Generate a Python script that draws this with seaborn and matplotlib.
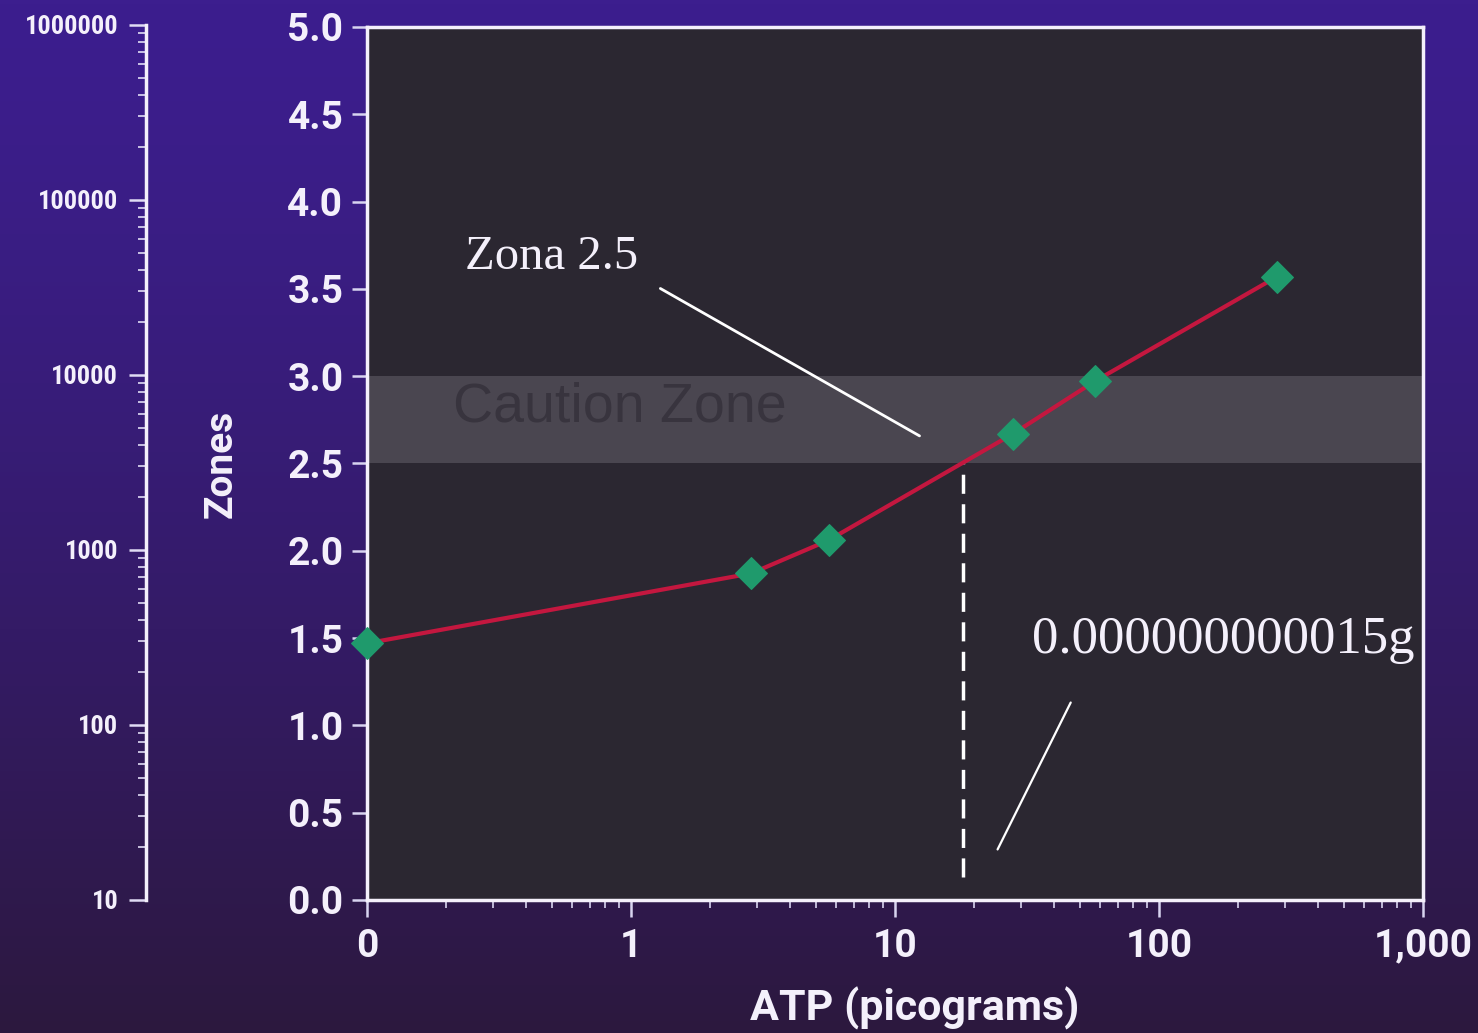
import numpy as np
import matplotlib.pyplot as plt
import matplotlib.ticker as mticker
import seaborn as sns

# values
atp_pg = [0.1, 2.85, 5.6, 28.0, 57.0, 280.0]     # 0.1 is the "0" position on the log axis
zones = [1.47, 1.87, 2.06, 2.67, 2.97, 3.57]

x_ticks = [0.1, 1, 10, 100, 1000]
x_ticklabels = ['0', '1', '10', '100', '1,000']
zone_ticks = [0.0, 0.5, 1.0, 1.5, 2.0, 2.5, 3.0, 3.5, 4.0, 4.5, 5.0]
rlu_ticks = [10, 100, 1000, 10000, 100000, 1000000]
rlu_labels = ['10', '100', '1000', '10000', '100000', '1000000']

caution_low, caution_high = 2.5, 3.0
zona_atp = 18.1
zona_level = 2.5
zona_floor = 0.13

sns.set_style("ticks")
bold_font = ['Roboto', 'DejaVu Sans']
narrow_font = ['Roboto Condensed', 'Roboto', 'DejaVu Sans']
serif_font = ['Liberation Serif', 'DejaVu Serif']
txt = '#f4f0fb'

fig = plt.figure(figsize=(14.78, 10.33), dpi=100)

# purple gradient backdrop
bg = fig.add_axes([0, 0, 1, 1], zorder=-10)
top = np.array([60, 30, 142]) / 255
bot = np.array([44, 24, 62]) / 255
t = (np.linspace(0, 1, 256) ** 1.4)[:, None]
grad = (top[None, :] * (1 - t) + bot[None, :] * t)[:, None, :]
bg.imshow(np.repeat(grad, 2, axis=1), aspect='auto', extent=[0, 1, 0, 1])
bg.axis('off')

# main chart
ax = fig.add_axes([0.2483, 0.1288, 0.7145, 0.8451])
ax.set_facecolor('#2b2731')
ax.axhspan(caution_low, caution_high, color='#4a4650', zorder=1, lw=0)
ax.text(0.212, 2.82, 'Caution Zone', fontsize=40,
        family=['Liberation Sans', 'DejaVu Sans'], color='#38343e', va='center', ha='left', zorder=2)

sns.lineplot(x=atp_pg, y=zones, ax=ax, color='#c4173f', lw=3, marker='D', markersize=16,
             markerfacecolor='#1f9a6c', markeredgecolor='#1f9a6c', zorder=5, clip_on=False)

ax.plot([zona_atp, zona_atp], [zona_floor, zona_level], color='white', lw=2.5,
        dashes=(5.5, 3), zorder=3)

ax.annotate('', xy=(12.65, 2.65), xytext=(1.265, 3.51),
            arrowprops=dict(arrowstyle='-', color='white', lw=2), zorder=4)
ax.text(0.50, 3.68, 'Zona 2.5', fontsize=35, family=serif_font, color=txt,
        ha='center', va='center')
ax.annotate('', xy=(24.2, 0.275), xytext=(46.8, 1.145),
            arrowprops=dict(arrowstyle='-', color='white', lw=1.6), zorder=4)
ax.text(175, 1.49, '0.000000000015g', fontsize=38, family=serif_font, color=txt,
        ha='center', va='center')

ax.set_xscale('log')
ax.set_xlim(0.1, 1000)
ax.set_ylim(0, 5)
ax.set_xticks(x_ticks)
ax.set_xticklabels(x_ticklabels)
ax.xaxis.set_minor_locator(mticker.LogLocator(base=10, subs=np.arange(2, 10)))
ax.xaxis.set_minor_formatter(mticker.NullFormatter())
ax.set_yticks(zone_ticks)
ax.set_yticklabels([f'{v:.1f}' for v in zone_ticks])
ax.yaxis.set_minor_locator(mticker.NullLocator())

for sp in ax.spines.values():
    sp.set_visible(True)
    sp.set_color('#f4f0fb')
    sp.set_linewidth(2.5)

ax.tick_params(axis='both', which='major', direction='out', length=11, width=1.8,
               color='#d8d4f0', labelcolor=txt, labelsize=28, pad=6,
               bottom=True, left=True, top=False, right=False)
ax.tick_params(axis='x', which='minor', direction='out', length=6, width=1.2,
               color='#d8d4f0', bottom=True, top=False)
ax.tick_params(axis='x', which='major', pad=8, length=12)
for lab in ax.get_xticklabels() + ax.get_yticklabels():
    lab.set_family(bold_font)
    lab.set_fontweight('bold')

ax.set_xlabel('ATP (picograms)', fontsize=31, fontweight='bold', family=bold_font, color=txt)
ax.set_ylabel('Zones', fontsize=28, fontweight='bold', family=bold_font, color=txt)
ax.xaxis.set_label_coords(0.519, -0.100)
ax.yaxis.set_label_coords(-0.121, 0.5)

# far-left logarithmic scale
ax2 = fig.add_axes([0.0988, 0.1288, 0.001, 0.8471])
ax2.set_facecolor('none')
ax2.set_yscale('log')
ax2.set_ylim(10, 1000000)
ax2.set_yticks(rlu_ticks)
ax2.set_yticklabels(rlu_labels)
ax2.yaxis.set_minor_locator(mticker.LogLocator(base=10, subs=np.arange(2, 10)))
ax2.yaxis.set_minor_formatter(mticker.NullFormatter())
ax2.set_xticks([])
for name, sp in ax2.spines.items():
    sp.set_visible(name == 'left')
ax2.spines['left'].set_color('#f4f0fb')
ax2.spines['left'].set_linewidth(2.5)
ax2.tick_params(axis='y', which='major', direction='out', length=12, width=1.8,
                color='#e0dcf4', labelcolor=txt, labelsize=19, pad=8, left=True, right=False)
ax2.tick_params(axis='y', which='minor', direction='out', length=6, width=1.2,
                color='#e0dcf4', left=True, right=False)
for lab in ax2.get_yticklabels():
    lab.set_family(narrow_font)
    lab.set_fontweight('bold')

fig.savefig('out.png', dpi=100)
